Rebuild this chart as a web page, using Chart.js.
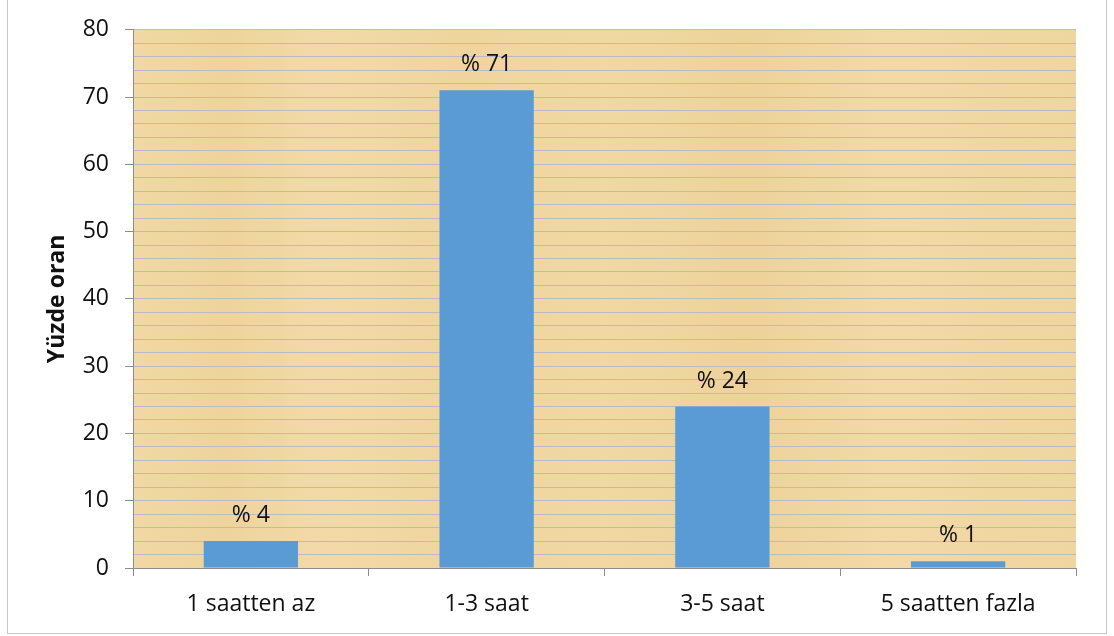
<!DOCTYPE html>
<html>
<head>
<meta charset="utf-8">
<script src="https://cdn.jsdelivr.net/npm/chart.js@4"></script>
<style>
  html, body { margin: 0; padding: 0; background: #fff; }
  #wrap { position: relative; width: 1114px; height: 636px; }
</style>
</head>
<body>
<div id="wrap"><canvas id="chart" width="1114" height="636"></canvas></div>
<script>
const categories = ['1 saatten az', '1-3 saat', '3-5 saat', '5 saatten fazla'];
const percentValues = [4, 71, 24, 1];
const valueLabels = ['% 4', '% 71', '% 24', '% 1'];
const yAxisTitle = 'Yüzde oran';

const fontFamily = '"Open Sans", Lato, sans-serif';
const fontSize = 23;
const axisColor = '#8c8c8c';

// papyrus-like fill behind the plot area plus outer frame
const areaBg = {
    id: 'areaBg',
    beforeDraw(chart) {
        const c = chart.ctx, a = chart.chartArea;
        c.save();
        c.fillStyle = '#fff';
        c.fillRect(0, 0, chart.width, chart.height);
        const g = c.createLinearGradient(a.left, 0, a.right, 0);
        g.addColorStop(0, '#f1d8a4');
        g.addColorStop(0.1, '#eed39b');
        g.addColorStop(0.2, '#f2daa8');
        g.addColorStop(0.35, '#efd49e');
        g.addColorStop(0.5, '#f1d8a3');
        g.addColorStop(0.65, '#edd29a');
        g.addColorStop(0.8, '#f2d9a6');
        g.addColorStop(1, '#efd59f');
        c.fillStyle = g;
        c.fillRect(a.left, a.top, a.right - a.left, a.bottom - a.top);
        c.strokeStyle = '#c8c8c8';
        c.lineWidth = 1;
        c.strokeRect(7.5, -1, 1099, 634.5);
        c.restore();
    }
};

const barLabels = {
    id: 'barLabels',
    afterDatasetsDraw(chart) {
        const c = chart.ctx;
        const meta = chart.getDatasetMeta(0);
        c.save();
        c.font = fontSize + 'px ' + fontFamily;
        c.fillStyle = '#111';
        c.textAlign = 'center';
        c.textBaseline = 'alphabetic';
        meta.data.forEach(function (bar, i) {
            c.fillText(valueLabels[i], bar.x, bar.y - 19);
        });
        c.restore();
    }
};

const ctx = document.getElementById('chart').getContext('2d');
const myChart = new Chart(ctx, {
    type: 'bar',
    data: {
        labels: categories,
        datasets: [{
            data: percentValues,
            backgroundColor: '#5b9bd5',
            borderWidth: 0,
            barPercentage: 0.4,
            categoryPercentage: 1
        }]
    },
    options: {
        responsive: false,
        animation: false,
        layout: { padding: { left: 40, right: 38, top: 29, bottom: 0 } },
        scales: {
            y: {
                min: 0,
                max: 80,
                ticks: {
                    stepSize: 2,
                    autoSkip: false,
                    padding: 16,
                    color: '#111',
                    font: { family: fontFamily, size: fontSize },
                    callback: function (v) { return v % 10 === 0 ? v : ''; }
                },
                grid: {
                    color: function (c) { return c.tick && c.tick.value === 0 ? axisColor : '#b8bcc6'; },
                    tickColor: function (c) { return c.tick && c.tick.value % 10 === 0 ? axisColor : 'transparent'; },
                    tickLength: 8
                },
                border: { color: axisColor },
                title: {
                    display: true,
                    text: yAxisTitle,
                    color: '#111',
                    font: { family: fontFamily, size: fontSize, weight: 'bold' }
                },
                afterFit: function (scale) { scale.width = 93; }
            },
            x: {
                offset: true,
                ticks: {
                    color: '#111',
                    padding: 15,
                    font: { family: fontFamily, size: fontSize }
                },
                grid: {
                    offset: true,
                    drawOnChartArea: false,
                    tickColor: axisColor,
                    tickLength: 8
                },
                border: { color: axisColor },
                afterFit: function (scale) { scale.height = 68; }
            }
        },
        plugins: {
            legend: { display: false },
            tooltip: { enabled: false }
        }
    },
    plugins: [areaBg, barLabels]
});
</script>
</body>
</html>
